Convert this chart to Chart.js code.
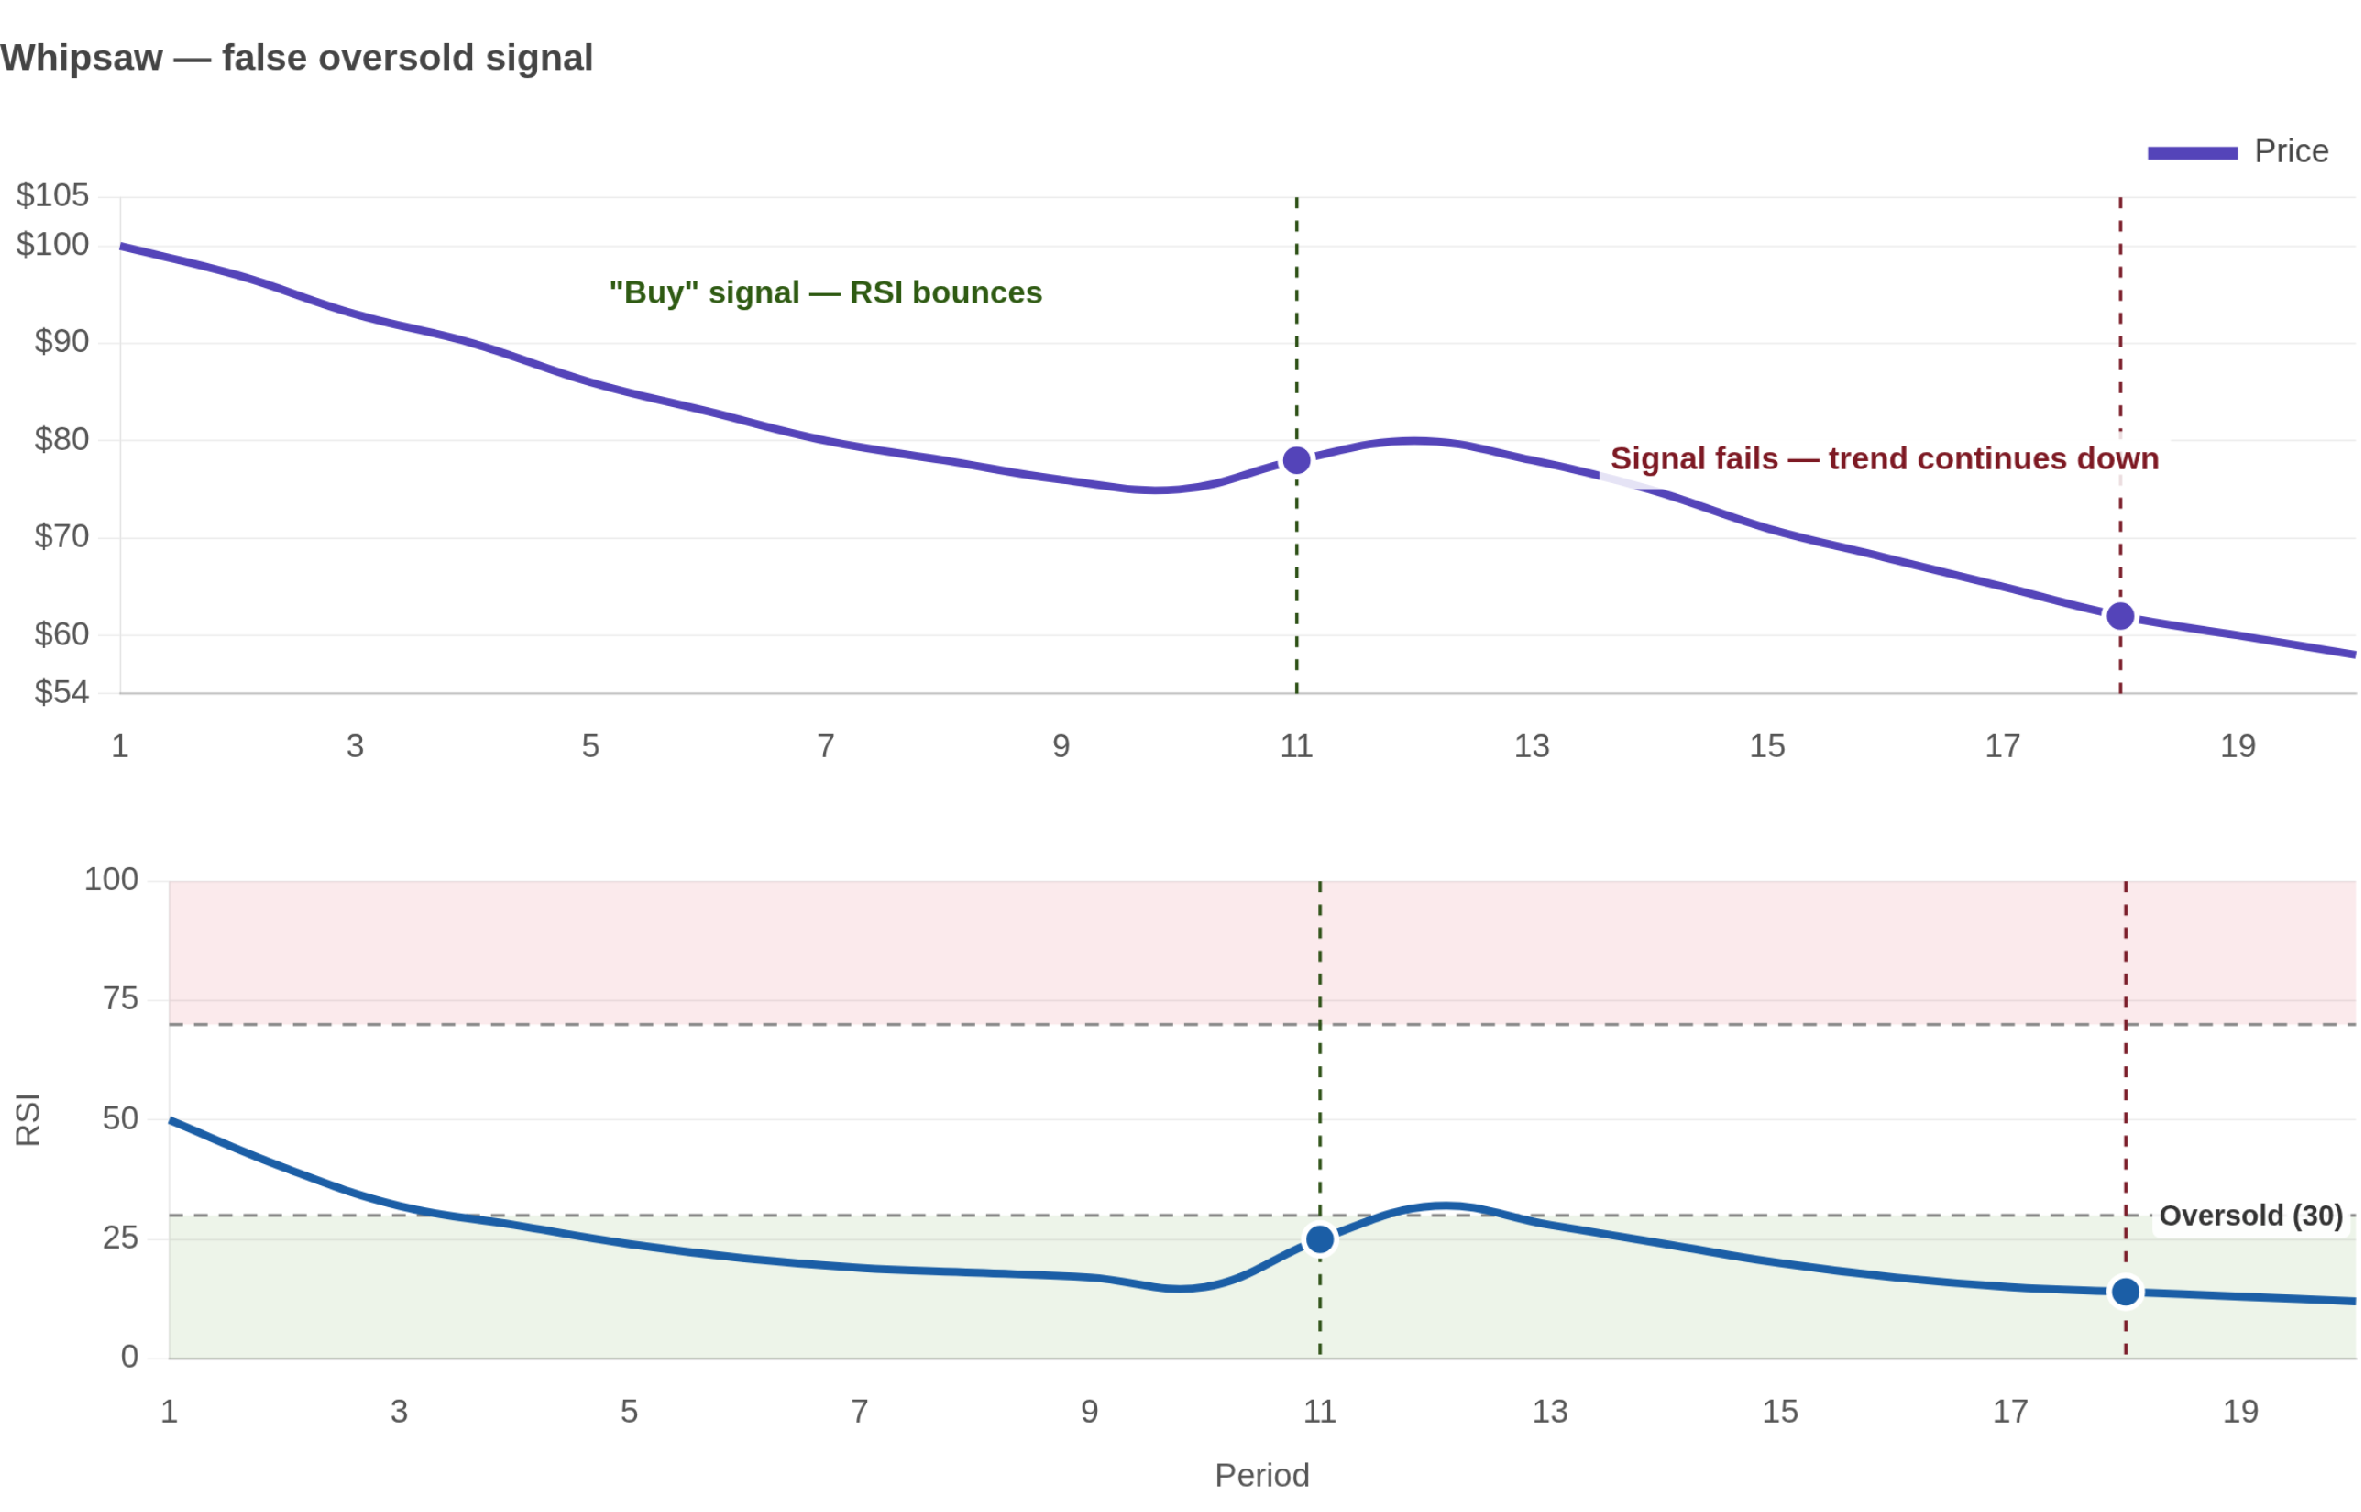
<!DOCTYPE html>
<html>
<head>
<meta charset="utf-8">
<title>Whipsaw — false oversold signal</title>
<script src="https://cdn.jsdelivr.net/npm/chart.js@4.4.1/dist/chart.umd.min.js"></script>
<style>
  html, body { margin: 0; padding: 0; background: #fff; overflow: hidden; }
  /* charts are laid out in small css px and blown up, like a hi-dpi screenshot */
  #stage { position: absolute; left: 0; top: 0; width: 858px; height: 550px; transform: scale(2.75); transform-origin: 0 0; }
  .box { position: absolute; left: 0; width: 858px; }
  #priceBox { top: 0; height: 284px; }
  #rsiBox { top: 300px; height: 250px; }
</style>
</head>
<body>
<div id="stage">
  <div class="box" id="priceBox"><canvas id="priceChart"></canvas></div>
  <div class="box" id="rsiBox"><canvas id="rsiChart"></canvas></div>
</div>
<script>
// ======================= DATA =======================
const periods = ['1','2','3','4','5','6','7','8','9','10','11','12','13','14','15','16','17','18','19','20'];
const price = [100, 97, 93, 90, 86, 83, 80, 78, 76, 75, 78, 80, 78, 75, 71, 68, 65, 62, 60, 58];
const rsi = [50, 40, 32, 28, 24, 21, 19, 18, 17, 15, 25, 32, 28, 24, 20, 17, 15, 14, 13, 12];
const signalPeriods = ['11', '18'];       // "buy" bounce, then the failure point
const priceRange = [54, 105];
const priceStep = 10;
const rsiRange = [0, 100];
const rsiStep = 25;
const oversold = 30;
const overbought = 70;

// ======================= STYLE =======================
const PX = 2.75;
const FONT = "'Liberation Sans', Arial, Helvetica, sans-serif";
const PRICE_COLOR = '#5444b9';
const RSI_COLOR = '#1b5ea6';
const GREEN = '#2d5016';
const RED = '#7b1e2a';
const GRID = 'rgba(0,0,0,0.07)';

Chart.defaults.font.family = FONT;
Chart.defaults.font.size = 12;
Chart.defaults.color = '#555';

// annotation anchors, in data space
const buyNote = { text: '"Buy" signal \u2014 RSI bounces', period: '7', value: 95, color: '#2e5a12' };
const failNote = { text: 'Signal fails \u2014 trend continues down', period: '16', value: 78, color: '#7d1923' };

const signalRadius = ctx => signalPeriods.includes(periods[ctx.dataIndex]) ? 6 : 0;

function vLines(chart) {
  const { ctx, chartArea: a, scales: { x } } = chart;
  signalPeriods.forEach((p, i) => {
    const px = x.getPixelForValue(periods.indexOf(p));
    ctx.save();
    ctx.strokeStyle = i === 0 ? GREEN : RED;
    ctx.lineWidth = 1.2;
    ctx.setLineDash([4, 4.4]);
    ctx.beginPath();
    ctx.moveTo(px, a.top);
    ctx.lineTo(px, a.bottom);
    ctx.stroke();
    ctx.restore();
  });
}

function note(chart, n, bg) {
  const { ctx, scales: { x, y } } = chart;
  const px = x.getPixelForValue(periods.indexOf(n.period));
  const py = y.getPixelForValue(n.value);
  ctx.save();
  ctx.font = 'bold 11.6px ' + FONT;
  const w = ctx.measureText(n.text).width;
  if (bg) {
    ctx.fillStyle = 'rgba(255,255,255,0.85)';
    ctx.fillRect(px - w / 2 - 4, py - 10.5, w + 8, 21);
  }
  ctx.fillStyle = n.color;
  ctx.textAlign = 'center';
  ctx.textBaseline = 'middle';
  ctx.fillText(n.text, px, py);
  ctx.restore();
}

// ======================= PRICE CHART =======================
const priceMarks = {
  id: 'priceMarks',
  beforeDatasetsDraw: chart => vLines(chart),
  afterDatasetsDraw(chart) {
    note(chart, buyNote, false);
    note(chart, failNote, true);
  }
};

new Chart(document.getElementById('priceChart'), {
  type: 'line',
  data: {
    labels: periods,
    datasets: [{
      label: 'Price', data: price,
      borderColor: PRICE_COLOR, backgroundColor: PRICE_COLOR, borderWidth: 2.9, tension: 0.4,
      pointRadius: signalRadius, pointBackgroundColor: PRICE_COLOR, pointBorderColor: '#fff', pointBorderWidth: 2
    }]
  },
  options: {
    devicePixelRatio: PX, responsive: true, maintainAspectRatio: false, animation: false, events: [],
    layout: { padding: { right: 1, bottom: 0.3 } },
    plugins: {
      title: { display: true, text: 'Whipsaw \u2014 false oversold signal', align: 'start', color: '#444',
        font: { size: 13.7, weight: 'bold' }, padding: { top: 13.3, bottom: 10 } },
      legend: { align: 'end', labels: { boxWidth: 32.7, boxHeight: 4.7, padding: 10, color: '#444',
        generateLabels: chart => Chart.defaults.plugins.legend.labels.generateLabels(chart).map(it => Object.assign(it, { lineWidth: 0 })) } },
      tooltip: { enabled: false }
    },
    scales: {
      x: { grid: { display: false }, border: { color: 'rgba(0,0,0,0.18)', width: 0.8 },
        ticks: { maxRotation: 0, autoSkip: true, maxTicksLimit: 10, padding: 4.5 } },
      y: { min: priceRange[0], max: priceRange[1], afterFit: s => { s.width = 43.6; },
        grid: { color: GRID, lineWidth: 0.6, tickLength: 8 }, border: { color: 'rgba(0,0,0,0.1)', width: 0.6 },
        ticks: { stepSize: priceStep, padding: 3, callback: v => '$' + v } }
    }
  },
  plugins: [priceMarks]
});

// ======================= RSI CHART =======================
const rsiMarks = {
  id: 'rsiMarks',
  beforeDraw(chart) {
    const { ctx, chartArea: a, scales: { y } } = chart;
    ctx.save();
    ctx.fillStyle = 'rgba(220,53,69,0.1)';
    ctx.fillRect(a.left, y.getPixelForValue(rsiRange[1]), a.width, y.getPixelForValue(overbought) - y.getPixelForValue(rsiRange[1]));
    ctx.fillStyle = 'rgba(76,150,40,0.1)';
    ctx.fillRect(a.left, y.getPixelForValue(oversold), a.width, y.getPixelForValue(rsiRange[0]) - y.getPixelForValue(oversold));
    ctx.restore();
  },
  beforeDatasetsDraw(chart) {
    const { ctx, chartArea: a, scales: { y } } = chart;
    [overbought, oversold].forEach(v => {
      const py = y.getPixelForValue(v);
      ctx.save();
      ctx.strokeStyle = '#888';
      ctx.lineWidth = 1.1;
      ctx.setLineDash([5, 4]);
      ctx.beginPath();
      ctx.moveTo(a.left, py);
      ctx.lineTo(a.right, py);
      ctx.stroke();
      ctx.restore();
    });
    vLines(chart);
  },
  afterDatasetsDraw(chart) {
    const { ctx, chartArea: a, scales: { y } } = chart;
    const py = y.getPixelForValue(oversold);
    const txt = 'Oversold (' + oversold + ')';
    ctx.save();
    ctx.font = 'bold 10.5px ' + FONT;
    const w = ctx.measureText(txt).width;
    const right = a.right - 4.4;
    ctx.fillStyle = 'rgba(255,255,255,0.9)';
    ctx.beginPath();
    ctx.roundRect(right - w - 2.5, py - 5.5, w + 5, 13.8, 3);
    ctx.fill();
    ctx.fillStyle = '#333';
    ctx.textAlign = 'right';
    ctx.textBaseline = 'middle';
    ctx.fillText(txt, right, py + 0.7);
    ctx.restore();
  }
};

new Chart(document.getElementById('rsiChart'), {
  type: 'line',
  data: {
    labels: periods,
    datasets: [{
      label: 'RSI', data: rsi,
      borderColor: RSI_COLOR, backgroundColor: RSI_COLOR, borderWidth: 2.9, tension: 0.4,
      pointRadius: signalRadius, pointBackgroundColor: RSI_COLOR, pointBorderColor: '#fff', pointBorderWidth: 2
    }]
  },
  options: {
    devicePixelRatio: PX, responsive: true, maintainAspectRatio: false, animation: false, events: [],
    layout: { padding: { top: 20.4, right: 1 } },
    plugins: { legend: { display: false }, tooltip: { enabled: false } },
    scales: {
      x: { grid: { display: false }, border: { color: 'rgba(0,0,0,0.18)', width: 0.8 },
        ticks: { maxRotation: 0, autoSkip: true, maxTicksLimit: 10, padding: 4.5 },
        title: { display: true, text: 'Period', color: '#555', padding: { top: 4.7, bottom: 5.6 } } },
      y: { min: rsiRange[0], max: rsiRange[1], afterFit: s => { s.width = 61.5; },
        grid: { color: GRID, lineWidth: 0.6, tickLength: 8 }, border: { color: 'rgba(0,0,0,0.1)', width: 0.6 },
        ticks: { stepSize: rsiStep, padding: 3 },
        title: { display: true, text: 'RSI', color: '#555', padding: { top: 3.7, bottom: 4 } } }
    }
  },
  plugins: [rsiMarks]
});
</script>
</body>
</html>
